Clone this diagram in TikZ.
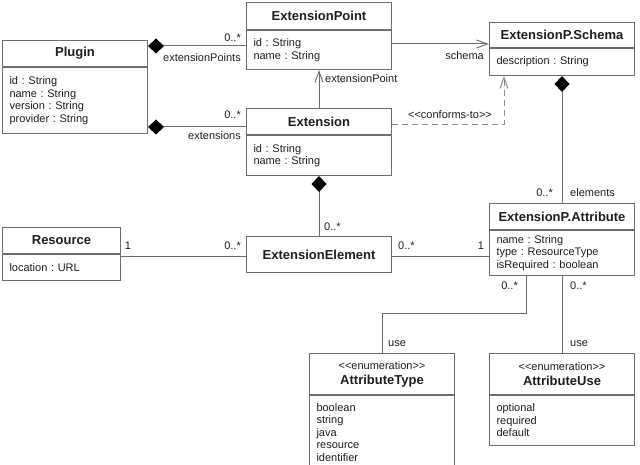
\documentclass[tikz,border=0pt]{standalone}
\usepackage{fontspec}
\setmainfont{Liberation Sans}
\usetikzlibrary{positioning,arrows.meta}
\definecolor{umlline}{HTML}{6E6E6E}
\definecolor{umltext}{HTML}{1E1E1E}
\frenchspacing

\begin{document}
\begin{tikzpicture}[x=1pt, y=-1pt,
    head/.style={draw=umlline, line width=1pt, minimum width=145pt, inner sep=0pt, text=umltext, font=\bfseries\fontsize{13}{15}\selectfont, anchor=north west},
    enumhead/.style={head, minimum height=41pt, align=center},
    attrs/.style={draw=umlline, line width=1pt, text width=131pt, inner xsep=7pt, inner ysep=0pt, align=left, text=umltext, font=\fontsize{11}{12.5}\selectfont, below=0pt of #1},
    lbl/.style={inner sep=0pt, text=umltext, font=\fontsize{11}{13}\selectfont},
    conn/.style={draw=umlline, line width=1pt},
    comp/.style={conn, {Diamond[length=16pt,width=15pt,black]}-},
    nav/.style={conn, -{Straight Barb[length=11pt,width=8pt]}},
    dep/.style={nav, dash pattern=on 6pt off 4pt, draw=umlline!80}]
    \clip (0,0) rectangle (640,465);
    % classes
    \node[head, minimum height=26pt] (plugH) at (2,40) {Plugin};
    \node[attrs=plugH, minimum height=66pt] (plugA) {id : String\\name : String\\version : String\\provider : String};
    \node[head, minimum height=27pt] (epH) at (246,2) {ExtensionPoint};
    \node[attrs=epH, minimum height=39pt] (epA) {id : String\\name : String};
    \node[head, minimum height=25pt] (schH) at (489,22) {ExtensionP.Schema};
    \node[attrs=schH, minimum height=27pt] (schA) {description : String};
    \node[head, minimum height=26pt] (extH) at (246,108) {Extension};
    \node[attrs=extH, minimum height=40pt] (extA) {id : String\\name : String};
    \node[head, minimum height=26pt, minimum width=118pt] (resH) at (2,227) {Resource};
    \node[attrs=resH, minimum height=26pt, text width=104pt] (resA) {location : URL};
    \node[head, minimum height=36pt] (elem) at (246,236) {ExtensionElement};
    \node[head, minimum height=26pt] (attH) at (489,203) {ExtensionP.Attribute};
    \node[attrs=attH, minimum height=45pt] (attA) {name : String\\type : ResourceType\\isRequired : boolean};
    % enumerations
    \node[enumhead] (typH) at (309,353) {{\mdseries\fontsize{11}{15}\selectfont {<}{<}enumeration{>}{>}}\\AttributeType};
    \node[attrs=typH, minimum height=74pt] (typA) {boolean\\string\\java\\resource\\identifier};
    \node[enumhead] (useH) at (489,353) {{\mdseries\fontsize{11}{15}\selectfont {<}{<}enumeration{>}{>}}\\AttributeUse};
    \node[attrs=useH, minimum height=50pt] (useA) {optional\\required\\default};
    % connectors
    \draw[comp] ([yshift=-6pt]plugH.north east) -- ([yshift=-6pt]plugH.north east -| epA.west);
    \draw[comp] ([yshift=7pt]plugA.south east) -- ([yshift=7pt]plugA.south east -| extH.west);
    \draw[nav] ([yshift=-14pt]epA.north east) -- ([yshift=-14pt]epA.north east -| schH.west);
    \draw[nav] (extH.north) -- (epA.south);
    \draw[dep] ([yshift=-3pt]extH.east) -| ([xshift=15pt]schA.south west);
    \draw[comp] (schA.south) -- (attH.north);
    \draw[comp] (extA.south) -- (elem.north);
    \draw[conn] ([yshift=-2pt]elem.west -| resH.east) -- ([yshift=-2pt]elem.west);
    \draw[conn] ([yshift=-2pt]elem.east) -- ([yshift=-2pt]elem.east -| attA.west);
    \draw[conn] ([xshift=-36pt]attA.south) |- ([yshift=40pt]typH.north) -- (typH.north);
    \draw[conn] (attA.south) -- (useH.north);
    % role names and multiplicities
    \node[lbl, anchor=east] (mPts) at (241,38) {0..*};
    \node[lbl, anchor=east] (rPts) at (241,58) {extensionPoints};
    \node[lbl, anchor=east] (mExt) at (241,115) {0..*};
    \node[lbl, anchor=east] (rExt) at (241,136) {extensions};
    \node[lbl, anchor=east] (rSch) at (484,56) {schema};
    \node[lbl, anchor=west] (rPt) at (325,79) {extensionPoint};
    \node[lbl] (sConf) at (450,115) {{<}{<}conforms-to{>}{>}};
    \node[lbl, anchor=east] (mEl) at (553,193) {0..*};
    \node[lbl, anchor=west] (rEl) at (570,193) {elements};
    \node[lbl, anchor=west] (mElem) at (324,227) {0..*};
    \node[lbl] (mRes1) at (128,246) {1};
    \node[lbl, anchor=east] (mRes2) at (241,246) {0..*};
    \node[lbl, anchor=west] (mAt1) at (398,246) {0..*};
    \node[lbl] (mAt2) at (481,246) {1};
    \node[lbl, anchor=east] (mTyp) at (518,286) {0..*};
    \node[lbl, anchor=west] (mUse) at (570,286) {0..*};
    \node[lbl, anchor=west] (rTyp) at (388,344) {use};
    \node[lbl, anchor=west] (rUse) at (570,344) {use};
\end{tikzpicture}
\end{document}
